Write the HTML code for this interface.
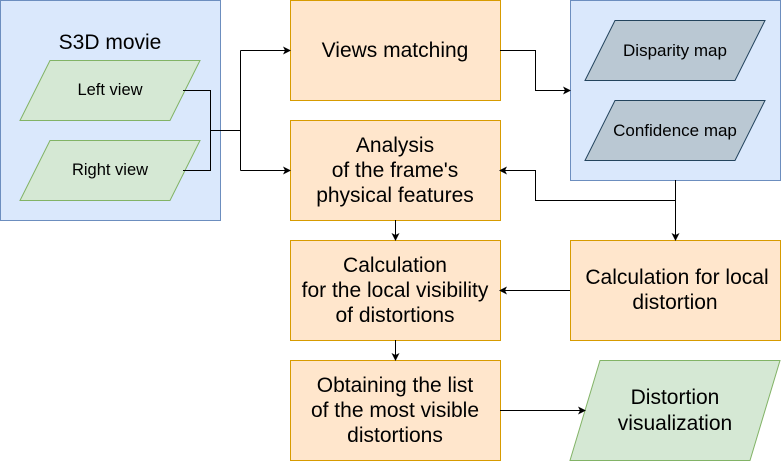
<!DOCTYPE html>
<html><head><meta charset="utf-8"><style>body{margin:0;background:#fff}</style></head><body>
<svg width="781" height="461" viewBox="0 0 781 461" xmlns="http://www.w3.org/2000/svg" font-family="Liberation Sans, Arial, sans-serif">
<defs><marker id="a" markerWidth="8" markerHeight="8" refX="7" refY="4" orient="auto" markerUnits="userSpaceOnUse"><path d="M0,0 L8,4 L0,8 L2,4 Z" fill="#000"/></marker></defs>
<rect x="0.5" y="0.5" width="220" height="220" fill="#dae8fc" stroke="#6c8ebf"/>
<text x="110" y="49" font-size="21" text-anchor="middle">S3D movie</text>
<polygon points="50,60.5 200,60.5 170,120.5 20,120.5" fill="#d5e8d4" stroke="#82b366"/>
<text x="110" y="95" font-size="16.5" text-anchor="middle">Left view</text>
<polygon points="50,140.5 200,140.5 170,200.5 20,200.5" fill="#d5e8d4" stroke="#82b366"/>
<text x="110" y="175" font-size="16.5" text-anchor="middle">Right view</text>
<rect x="570.5" y="0.5" width="210" height="180" fill="#dae8fc" stroke="#6c8ebf"/>
<polygon points="615,20.5 765,20.5 735,80.5 585,80.5" fill="#bac8d3" stroke="#23445d"/>
<text x="675" y="56" font-size="17" text-anchor="middle">Disparity map</text>
<polygon points="615,100.5 765,100.5 735,160.5 585,160.5" fill="#bac8d3" stroke="#23445d"/>
<text x="675" y="136" font-size="17" text-anchor="middle">Confidence map</text>
<g fill="#ffe6cc" stroke="#d79b00">
<rect x="290.5" y="0.5" width="210" height="100"/>
<rect x="290.5" y="120.5" width="210" height="100"/>
<rect x="290.5" y="240.5" width="210" height="100"/>
<rect x="290.5" y="360.5" width="210" height="100"/>
<rect x="570.5" y="240.5" width="210" height="100"/>
</g>
<polygon points="600,360.5 780,360.5 750,460.5 570,460.5" fill="#d5e8d4" stroke="#82b366"/>
<g font-size="21" text-anchor="middle">
<text x="395" y="57">Views matching</text>
<text x="395" y="152">Analysis</text>
<text x="395" y="177">of the frame's</text>
<text x="395" y="202">physical features</text>
<text x="395" y="272">Calculation</text>
<text x="395" y="297">for the local visibility</text>
<text x="395" y="322">of distortions</text>
<text x="395" y="392">Obtaining the list</text>
<text x="395" y="417">of the most visible</text>
<text x="395" y="442">distortions</text>
<text x="677" y="284">Calculation for local</text>
<text x="675" y="309">distortion</text>
<text x="675" y="404">Distortion</text>
<text x="675" y="430">visualization</text>
</g>
<g fill="none" stroke="#000" stroke-width="1">
<path d="M183,90.5 H210.5 V170.5 H183"/>
<path d="M210.5,130.5 H240.5"/>
<path d="M240.5,50.5 V170.5"/>
<path d="M240.5,50.5 H290" marker-end="url(#a)"/>
<path d="M240.5,170.5 H290" marker-end="url(#a)"/>
<path d="M500,50.5 H535.5 V90.5 H570" marker-end="url(#a)"/>
<path d="M675.5,180 V240" marker-end="url(#a)"/>
<path d="M675.5,200.5 H535.5 V170.5 H500" marker-end="url(#a)"/>
<path d="M395.5,220 V240" marker-end="url(#a)"/>
<path d="M570,290.5 H500" marker-end="url(#a)"/>
<path d="M395.5,340 V360" marker-end="url(#a)"/>
<path d="M500,410.5 H585" marker-end="url(#a)"/>
</g>
</svg>
</body></html>
